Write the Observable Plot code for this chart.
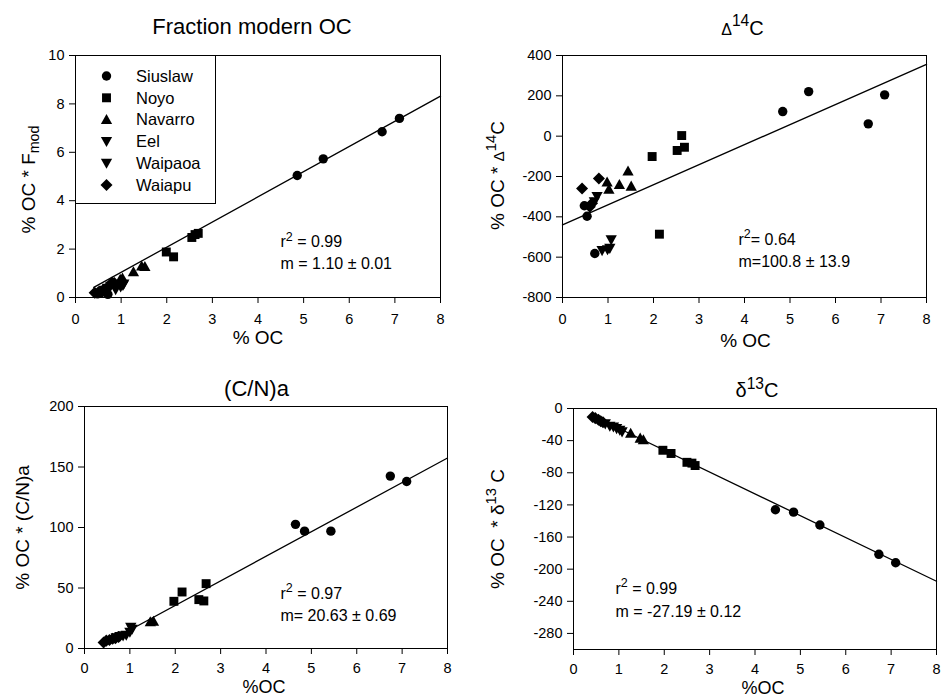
<!DOCTYPE html>
<html><head><meta charset="utf-8">
<script src="https://cdn.jsdelivr.net/npm/d3@7"></script>
<script src="https://cdn.jsdelivr.net/npm/@observablehq/plot@0.6"></script>
<style>
html,body{margin:0;padding:0;background:#fff;}
#chart{position:relative;width:943px;height:698px;overflow:hidden;background:#fff;font-family:"Liberation Sans",Arial,sans-serif;}
#chart > svg{position:absolute;overflow:visible;max-width:none;}
</style></head><body><div id="chart"></div>
<script>
// ---------- data ----------
const rivers = ["Siuslaw", "Noyo", "Navarro", "Eel", "Waipaoa", "Waiapu"];
const xTicks = [0, 1, 2, 3, 4, 5, 6, 7, 8];

// Panel 1: Fraction modern OC
const fmodRiver = ["Siuslaw","Siuslaw","Siuslaw","Siuslaw","Siuslaw","Siuslaw","Siuslaw","Noyo","Noyo","Noyo","Noyo","Noyo","Navarro","Navarro","Navarro","Navarro","Navarro","Eel","Eel","Eel","Eel","Waipaoa","Waipaoa","Waipaoa","Waiapu","Waiapu","Waiapu","Waiapu","Waiapu","Waiapu"];
const fmodOC = [0.48,0.54,0.71,4.86,5.43,6.72,7.10, 1.99,2.15,2.55,2.62,2.69, 0.98,1.03,1.27,1.45,1.52, 0.88,0.99,1.06,1.04, 0.62,0.77,0.70, 0.42,0.50,0.60,0.66,0.80,0.85];
const fmodVal = [0.15,0.17,0.13,5.04,5.73,6.85,7.40, 1.88,1.68,2.48,2.60,2.65, 0.75,0.80,1.06,1.30,1.28, 0.33,0.44,0.56,0.50, 0.30,0.47,0.38, 0.20,0.22,0.30,0.35,0.62,0.60];
const fmodTicks = [0, 2, 4, 6, 8, 10];

// Panel 2: Delta 14C
const d14River = ["Siuslaw","Siuslaw","Siuslaw","Siuslaw","Siuslaw","Siuslaw","Siuslaw","Noyo","Noyo","Noyo","Noyo","Noyo","Navarro","Navarro","Navarro","Navarro","Navarro","Eel","Eel","Eel","Eel","Waipaoa","Waipaoa","Waiapu","Waiapu","Waiapu","Waiapu"];
const d14OC = [0.48,0.54,0.71,4.84,5.41,6.72,7.08, 1.97,2.13,2.52,2.62,2.68, 0.98,1.02,1.25,1.44,1.51, 0.87,0.99,1.07,1.04, 0.76,0.70, 0.43,0.80,0.65,0.60];
const d14Val = [-345,-397,-582,122,221,61,205, -101,-486,-71,3,-55, -228,-264,-240,-173,-248, -567,-563,-514,-556, -299,-325, -260,-210,-333,-350];
const d14Ticks = [-800, -600, -400, -200, 0, 200, 400];

// Panel 3: (C/N)a
const cnRiver = ["Siuslaw","Siuslaw","Siuslaw","Siuslaw","Siuslaw","Noyo","Noyo","Noyo","Noyo","Noyo","Navarro","Navarro","Eel","Eel","Eel","Eel","Waipaoa","Waipaoa","Waipaoa","Waiapu","Waiapu","Waiapu","Waiapu","Waiapu","Waiapu"];
const cnOC = [4.65,4.85,5.43,6.74,7.10, 1.97,2.15,2.52,2.63,2.68, 1.45,1.52, 0.92,1.00,1.05,1.02, 0.70,0.78,0.85, 0.42,0.48,0.55,0.62,0.68,0.75];
const cnVal = [102.6,97,97,142.5,138, 39,46.7,40.4,39.3,53.6, 22,22.5, 11,13.5,16,17.5, 9,10,10.5, 5,6.5,7,8,8.5,9.5];
const cnTicks = [0, 50, 100, 150, 200];

// Panel 4: delta 13C
const d13River = ["Siuslaw","Siuslaw","Siuslaw","Siuslaw","Siuslaw","Noyo","Noyo","Noyo","Noyo","Noyo","Navarro","Navarro","Navarro","Eel","Eel","Eel","Waipaoa","Waipaoa","Waipaoa","Waiapu","Waiapu","Waiapu","Waiapu","Waiapu"];
const d13OC = [4.45,4.85,5.43,6.73,7.10, 1.97,2.15,2.50,2.61,2.68, 1.26,1.47,1.54, 0.95,1.02,1.07, 0.70,0.80,0.88, 0.42,0.48,0.55,0.60,0.65];
const d13Val = [-126,-129,-145,-181.5,-192, -52,-56,-67,-68,-71, -31,-37,-39, -25,-27,-29, -19,-22,-23, -10.5,-12,-14,-16,-17];
const d13Ticks = [-280, -240, -200, -160, -120, -80, -40, 0];

// regression fits (slope, intercept, x-range)
const fitSlope = [1.04, 99.5, 20.3, -27.19];
const fitIntercept = [0, -440, -5, 2.5];
const fitFrom = [0.4, 0, 0.4, 0.4];
const fitTo = [8, 8, 8, 8];

// texts
const titles = ["Fraction modern OC", "~{Δ}^{14}C", "(C/N)a", "δ^{13}C"];
const yLabels = ["% OC * F_{mod}", "% OC * ~{Δ}^{14}C", "% OC * (C/N)a", "% OC  * δ^{13} C"];
const xLabels = ["% OC", "% OC", "%OC", "%OC"];
const statR2 = ["r^{2} = 0.99", "r^{2}= 0.64", "r^{2} = 0.97", "r^{2} = 0.99"];
const statM = ["m = 1.10 ± 0.01", "m=100.8 ± 13.9", "m= 20.63 ± 0.69", "m = -27.19 ± 0.12"];

// ---------- symbols ----------
function mk(fn) { return {draw(c, size) { fn(c, Math.sqrt(size / Math.PI)); }}; }
const symCircle = mk((c, r) => { c.moveTo(r, 0); c.arc(0, 0, r, 0, 2 * Math.PI); c.closePath(); });
const symSquare = mk((c, r) => { const s = r * 0.95; c.moveTo(-s, -s); c.lineTo(s, -s); c.lineTo(s, s); c.lineTo(-s, s); c.closePath(); });
const symTriUp = mk((c, r) => { c.moveTo(0, -r * 1.2); c.lineTo(r * 1.2, r * 0.95); c.lineTo(-r * 1.2, r * 0.95); c.closePath(); });
const symTriDown = mk((c, r) => { c.moveTo(0, r * 1.2); c.lineTo(r * 1.2, -r * 0.95); c.lineTo(-r * 1.2, -r * 0.95); c.closePath(); });
const symDiamond = mk((c, r) => { const s = r * 1.28; c.moveTo(0, -s); c.lineTo(s, 0); c.lineTo(0, s); c.lineTo(-s, 0); c.closePath(); });
const riverSymbols = [symCircle, symSquare, symTriUp, symTriDown, symTriDown, symDiamond];
const R = 4.7;

// ---------- layout ----------
const panelRiver = [fmodRiver, d14River, cnRiver, d13River];
const panelOC = [fmodOC, d14OC, cnOC, d13OC];
const panelVal = [fmodVal, d14Val, cnVal, d13Val];
const yDomains = [[0, 10], [-800, 400], [0, 200], [-300, 0]];
const yTicks = [fmodTicks, d14Ticks, cnTicks, d13Ticks];

const layouts = [
  {left: 0, top: 0, w: 471, h: 350, m: [55, 31, 53, 75], tp: 10, t: [-6, -28.7, 22], yl: [-47, 3], xl: [0, 40, 19], st: [205, 186.6, 207.9]},
  {left: 471, top: 0, w: 472, h: 350, m: [55, 17, 53, 91], tp: 10, t: [-2, -27.4, 20], yl: [-65, -1], xl: [1, 43, 19], st: [176, 183.9, 206.6]},
  {left: 0, top: 350, w: 471, h: 348, m: [56, 24, 50, 84], tp: 8, t: [-9.5, -18, 22], yl: [-62, 0], xl: [-2, 39.2, 18], st: [196, 187.2, 209.6]},
  {left: 471, top: 350, w: 472, h: 348, m: [58, 7, 49, 102], tp: 8, t: [2, -17.7, 20], yl: [-76, 0], xl: [8, 38.7, 18], st: [42, 180.2, 203.6]}
];

const FONT = '"Liberation Sans", Arial, sans-serif';

function richify(root) {
  d3.select(root).selectAll("text").each(function() {
    const t = this.textContent;
    if (!/[\^_~]\{/.test(t)) return;
    const fs = parseFloat(getComputedStyle(this).fontSize) || 16;
    const parts = [];
    const re = /([\^_~])\{([^}]*)\}/g;
    let last = 0, m;
    while ((m = re.exec(t))) {
      if (m.index > last) parts.push({s: t.slice(last, m.index), k: ""});
      parts.push({s: m[2], k: m[1]});
      last = re.lastIndex;
    }
    if (last < t.length) parts.push({s: t.slice(last), k: ""});
    this.textContent = "";
    let cur = 0;
    for (const p of parts) {
      const ts = document.createElementNS("http://www.w3.org/2000/svg", "tspan");
      ts.textContent = p.s;
      let target = 0;
      if (p.k === "^") { ts.style.fontSize = (fs * 0.78) + "px"; target = -fs * 0.42; }
      else if (p.k === "_") { ts.style.fontSize = (fs * 0.75) + "px"; target = fs * 0.22; }
      else if (p.k === "~") { ts.style.fontSize = (fs * 0.8) + "px"; target = 0; }
      if (target !== cur) { ts.setAttribute("dy", (target - cur) + "px"); cur = target; }
      this.appendChild(ts);
    }
  });
}

const chart = document.getElementById("chart");

layouts.forEach((L, i) => {
  const data = panelRiver[i].map((r, j) => ({river: r, oc: panelOC[i][j], v: panelVal[i][j]}));
  const fit = [fitFrom[i], fitTo[i]].map(x => ({oc: x, v: fitIntercept[i] + fitSlope[i] * x}));
  const svg = Plot.plot({
    width: L.w, height: L.h,
    marginTop: L.m[0], marginRight: L.m[1], marginBottom: L.m[2], marginLeft: L.m[3],
    x: {domain: [0, 8]},
    y: {domain: yDomains[i]},
    symbol: {domain: rivers, range: riverSymbols},
    style: {fontFamily: FONT, fontSize: "14.5px", color: "black", background: "transparent", overflow: "visible"},
    marks: [
      Plot.axisX(xTicks, {tickSize: 6, tickPadding: L.tp, tickFormat: d => String(d), label: null, fontSize: 14.5}),
      Plot.axisY(yTicks[i], {tickSize: 6, tickPadding: 5, tickFormat: d => String(d), label: null, fontSize: 14.5}),
      Plot.line(fit, {x: "oc", y: "v", stroke: "black", strokeWidth: 1.3}),
      Plot.dot(data, {x: "oc", y: "v", symbol: "river", r: R, fill: "black", stroke: "none"}),
      Plot.frame({stroke: "black", strokeWidth: 1}),
      Plot.text([titles[i]], {text: d => d, frameAnchor: "top", textAnchor: "middle", lineAnchor: "middle", dx: L.t[0], dy: L.t[1], fontSize: L.t[2], fill: "black"}),
      Plot.text([yLabels[i]], {text: d => d, frameAnchor: "left", textAnchor: "middle", lineAnchor: "middle", rotate: -90, dx: L.yl[0], dy: L.yl[1], fontSize: 19, fill: "black"}),
      Plot.text([xLabels[i]], {text: d => d, frameAnchor: "bottom", textAnchor: "middle", lineAnchor: "middle", dx: L.xl[0], dy: L.xl[1], fontSize: L.xl[2], fill: "black"}),
      Plot.text([statR2[i]], {text: d => d, frameAnchor: "top-left", textAnchor: "start", lineAnchor: "middle", dx: L.st[0], dy: L.st[1], fontSize: 16, fill: "black"}),
      Plot.text([statM[i]], {text: d => d, frameAnchor: "top-left", textAnchor: "start", lineAnchor: "middle", dx: L.st[0], dy: L.st[2], fontSize: 16, fill: "black"})
    ]
  });
  svg.style.position = "absolute";
  svg.style.left = L.left + "px";
  svg.style.top = L.top + "px";
  chart.appendChild(svg);

  if (i === 0) {
    // legend box inside panel 1
    const g = d3.select(svg).append("g").attr("font-family", FONT).attr("font-size", 16.5).attr("text-anchor", "start");
    const x0 = L.m[3], y0 = L.m[0];
    g.append("rect").attr("x", x0 + 0.5).attr("y", y0 + 0.5).attr("width", 140).attr("height", 148)
      .attr("fill", "white").attr("stroke", "black");
    rivers.forEach((r, k) => {
      const cy = y0 + 21 + k * 21.8;
      g.append("path").attr("transform", `translate(${x0 + 31.5},${cy})`)
        .attr("d", d3.symbol(riverSymbols[k], Math.PI * R * R)()).attr("fill", "black");
      g.append("text").attr("x", x0 + 61).attr("y", cy).attr("dy", "0.35em")
        .attr("text-anchor", "start").attr("fill", "black").text(r);
    });
  }
  richify(svg);
});
</script>
</body></html>
